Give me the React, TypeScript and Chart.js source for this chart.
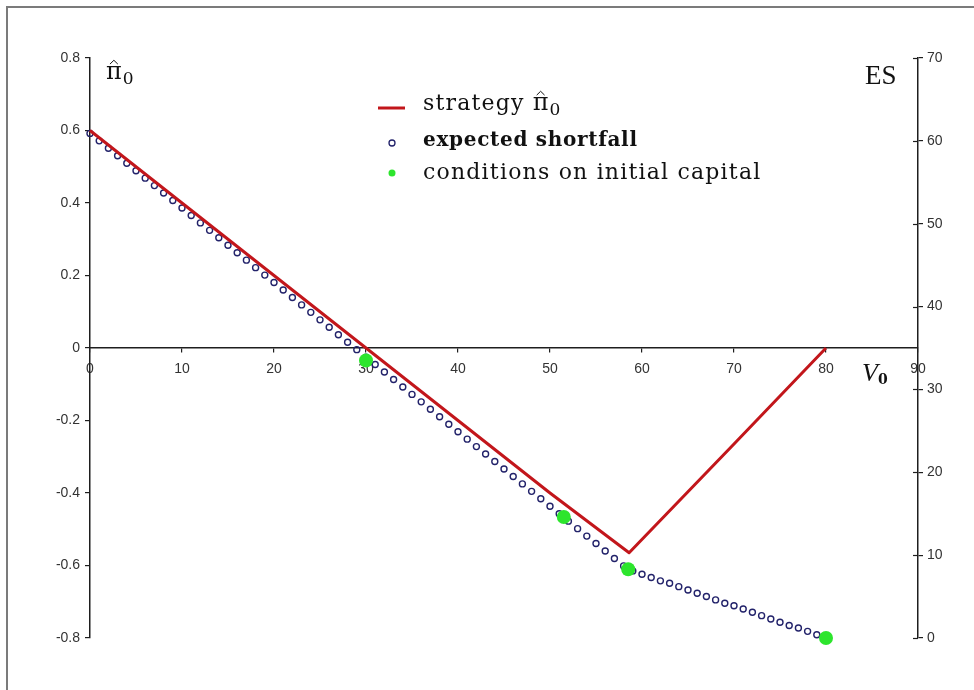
import { useEffect, useRef } from "react";
import { Chart, registerables } from "chart.js";

Chart.register(...registerables);

// Initial capital V0 on the horizontal axis, one ES marker per unit of capital.
const shortfallCapital = [
  0, 1, 2, 3, 4, 5, 6, 7, 8, 9, 10, 11, 12, 13, 14, 15, 16, 17, 18, 19, 20,
  21, 22, 23, 24, 25, 26, 27, 28, 29, 30, 31, 32, 33, 34, 35, 36, 37, 38, 39, 40,
  41, 42, 43, 44, 45, 46, 47, 48, 49, 50, 51, 52, 53, 54, 55, 56, 57, 58, 59, 60,
  61, 62, 63, 64, 65, 66, 67, 68, 69, 70, 71, 72, 73, 74, 75, 76, 77, 78, 79, 80,
];
const shortfallValues = [
  60.9, 60.0, 59.1, 58.2, 57.3, 56.4, 55.5, 54.6, 53.7, 52.8, 51.9,
  51.0, 50.1, 49.2, 48.3, 47.4, 46.5, 45.6, 44.7, 43.8, 42.9,
  42.0, 41.1, 40.2, 39.3, 38.4, 37.5, 36.6, 35.7, 34.8, 33.9,
  33.0, 32.1, 31.2, 30.3, 29.4, 28.5, 27.6, 26.7, 25.8, 24.9,
  24.0, 23.1, 22.2, 21.3, 20.4, 19.5, 18.6, 17.7, 16.8, 15.9,
  15.0, 14.1, 13.2, 12.3, 11.4, 10.5, 9.6, 8.7, 8.1, 7.7,
  7.3, 6.9, 6.6, 6.2, 5.8, 5.4, 5.0, 4.6, 4.2, 3.9,
  3.5, 3.1, 2.7, 2.3, 1.9, 1.5, 1.2, 0.8, 0.4, 0.0,
];

// Strategy pi-hat_0 as a function of the initial capital.
const strategyCapital = [0, 10, 20, 30, 40, 50, 58.6, 70, 80];
const strategyValues = [0.6, 0.4, 0.2, 0.0, -0.2, -0.4, -0.565, -0.265, 0.0];

// Conditions on initial capital (plotted on the ES axis).
const conditionCapital = [30, 51.5, 58.5, 80];
const conditionShortfall = [33.5, 14.6, 8.3, 0.0];

// Axis ticks.
const capitalTicks = [0, 10, 20, 30, 40, 50, 60, 70, 80, 90];
const strategyTicks = [-0.8, -0.6, -0.4, -0.2, 0, 0.2, 0.4, 0.6, 0.8];
const shortfallTicks = [0, 10, 20, 30, 40, 50, 60, 70];

const legendLabels = ["strategy", "expected shortfall", "conditions on initial capital"];

const RED = "#c2161b";
const NAVY = "#22226a";
const GREEN = "#2de52d";
const AXIS = "#1e1e1e";
const TICK_FONT = { family: "'Liberation Sans', Arial, sans-serif", size: 14 };
const SERIF = "'DejaVu Serif', serif";
const TIMES = "'Liberation Serif', 'Times New Roman', serif";

function drawPiHat(ctx: CanvasRenderingContext2D, x: number, y: number, size: number) {
  ctx.font = `${size}px ${SERIF}`;
  ctx.fillText("π", x, y);
  const w = ctx.measureText("π").width;
  // circumflex accent
  ctx.save();
  ctx.lineWidth = 1;
  ctx.beginPath();
  ctx.moveTo(x + w * 0.25, y - size * 0.62);
  ctx.lineTo(x + w * 0.5, y - size * 0.78);
  ctx.lineTo(x + w * 0.75, y - size * 0.62);
  ctx.stroke();
  ctx.restore();
  ctx.font = `${Math.round(size * 0.7)}px ${SERIF}`;
  ctx.fillText("0", x + w + 1, y + size * 0.2);
}

const notesPlugin = {
  id: "notes",
  afterDraw(chart: any) {
    const { ctx, scales } = chart;
    const y2 = scales.y2;
    ctx.save();

    // picture frame (top and left edges)
    ctx.strokeStyle = "#7b7b7b";
    ctx.lineWidth = 2;
    ctx.beginPath();
    ctx.moveTo(7, 690);
    ctx.lineTo(7, 7);
    ctx.lineTo(974, 7);
    ctx.stroke();

    // ES axis ticks cross the axis line
    ctx.strokeStyle = AXIS;
    ctx.lineWidth = 1.2;
    for (const v of shortfallTicks) {
      const py = Math.round(y2.getPixelForValue(v)) + 0.5;
      ctx.beginPath();
      ctx.moveTo(y2.left - 5, py);
      ctx.lineTo(y2.left, py);
      ctx.stroke();
    }

    ctx.fillStyle = "#111";
    ctx.strokeStyle = "#111";
    ctx.textBaseline = "alphabetic";
    ctx.textAlign = "left";

    // axis titles
    drawPiHat(ctx, 106, 79, 24);
    ctx.font = `27px ${TIMES}`;
    ctx.fillText("ES", 865, 84);
    ctx.font = `italic 26px ${TIMES}`;
    ctx.fillText("V", 862, 381);
    ctx.font = `bold 14px ${SERIF}`;
    ctx.fillText("0", 878, 384);

    // legend
    ctx.strokeStyle = RED;
    ctx.lineWidth = 3;
    ctx.beginPath();
    ctx.moveTo(378, 108);
    ctx.lineTo(405, 108);
    ctx.stroke();

    ctx.strokeStyle = NAVY;
    ctx.lineWidth = 1.3;
    ctx.beginPath();
    ctx.arc(392, 143, 3, 0, Math.PI * 2);
    ctx.stroke();

    ctx.fillStyle = GREEN;
    ctx.beginPath();
    ctx.arc(392, 173, 3.5, 0, Math.PI * 2);
    ctx.fill();

    ctx.fillStyle = "#111";
    ctx.strokeStyle = "#111";
    (ctx as any).letterSpacing = "1.2px";
    ctx.font = `22px ${SERIF}`;
    ctx.fillText(legendLabels[0], 423, 110);
    const sw = ctx.measureText(legendLabels[0]).width;
    (ctx as any).letterSpacing = "0px";
    drawPiHat(ctx, 423 + sw + 8, 110, 24);
    (ctx as any).letterSpacing = "0.7px";
    ctx.font = `bold 20px ${SERIF}`;
    ctx.fillText(legendLabels[1], 423, 146);
    (ctx as any).letterSpacing = "1.2px";
    ctx.font = `22px ${SERIF}`;
    ctx.fillText(legendLabels[2], 423, 179);
    (ctx as any).letterSpacing = "0px";

    ctx.restore();
  },
};

export default function App() {
  const canvasRef = useRef<HTMLCanvasElement | null>(null);

  useEffect(() => {
    const canvas = canvasRef.current;
    if (!canvas) return;

    const chart = new Chart(canvas, {
      type: "scatter",
      data: {
        datasets: [
          {
            label: legendLabels[2],
            data: conditionCapital.map((x, i) => ({ x, y: conditionShortfall[i] })),
            yAxisID: "y2",
            pointRadius: 7,
            pointBackgroundColor: GREEN,
            pointBorderWidth: 0,
            showLine: false,
            order: 0,
            clip: false,
          },
          {
            label: legendLabels[0],
            data: strategyCapital.map((x, i) => ({ x, y: strategyValues[i] })),
            yAxisID: "y",
            showLine: true,
            borderColor: RED,
            borderWidth: 3,
            borderJoinStyle: "round",
            pointRadius: 0,
            order: 1,
            clip: false,
          },
          {
            label: legendLabels[1],
            data: shortfallCapital.map((x, i) => ({ x, y: shortfallValues[i] })),
            yAxisID: "y2",
            pointRadius: 3,
            pointBorderWidth: 1.4,
            pointBorderColor: NAVY,
            pointBackgroundColor: "rgba(255,255,255,0)",
            showLine: false,
            order: 2,
            clip: false,
          },
        ],
      },
      options: {
        animation: false,
        responsive: true,
        maintainAspectRatio: false,
        layout: { padding: { top: 58, bottom: 52, left: 0, right: 0 } },
        plugins: {
          legend: { display: false },
          tooltip: { enabled: false },
        },
        scales: {
          x: {
            type: "linear",
            position: { y: 0 } as any,
            min: 0,
            max: 90,
            afterBuildTicks: (s: any) => {
              s.ticks = capitalTicks.map((v) => ({ value: v }));
            },
            grid: { drawOnChartArea: false, drawTicks: true, tickLength: 4, color: AXIS, lineWidth: 1.2 },
            border: { display: true, color: AXIS, width: 1.5 },
            ticks: {
              autoSkip: false,
              maxRotation: 0,
              padding: 9,
              color: "#333",
              font: TICK_FONT,
              callback: (v: any) => String(v),
            },
          },
          y: {
            type: "linear",
            position: "left",
            min: -0.8,
            max: 0.8,
            afterBuildTicks: (s: any) => {
              s.ticks = strategyTicks.map((v) => ({ value: v }));
            },
            afterFit: (s: any) => {
              s.width = 90;
            },
            grid: { drawOnChartArea: false, drawTicks: true, tickLength: 5, color: AXIS, lineWidth: 1.2 },
            border: { display: true, color: AXIS, width: 1.5 },
            ticks: {
              padding: 5,
              color: "#333",
              font: TICK_FONT,
              callback: (v: any) => (Math.abs(v) < 1e-9 ? "0" : Number(v).toFixed(1)),
            },
          },
          y2: {
            type: "linear",
            position: "right",
            min: 0,
            max: 70,
            afterBuildTicks: (s: any) => {
              s.ticks = shortfallTicks.map((v) => ({ value: v }));
            },
            afterFit: (s: any) => {
              s.width = 56;
            },
            grid: { drawOnChartArea: false, drawTicks: true, tickLength: 5, color: AXIS, lineWidth: 1.2 },
            border: { display: true, color: AXIS, width: 1.5 },
            ticks: {
              padding: 4,
              color: "#333",
              font: TICK_FONT,
              callback: (v: any) => String(v),
            },
          },
        },
      },
      plugins: [notesPlugin],
    });

    return () => chart.destroy();
  }, []);

  return (
    <div style={{ position: "absolute", left: 0, top: 0, width: 974, height: 690, background: "#fff" }}>
      <canvas ref={canvasRef} />
    </div>
  );
}
